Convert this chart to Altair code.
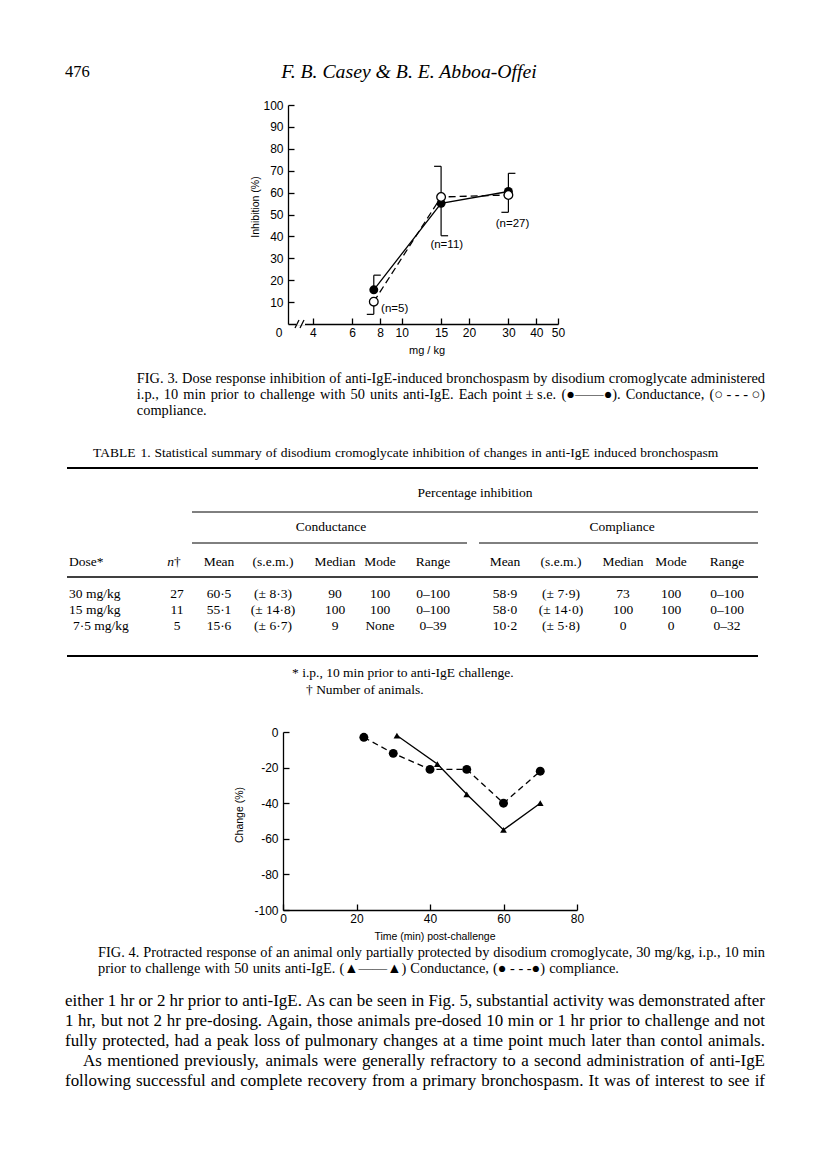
import altair as alt
import pandas as pd

SERIF = "Liberation Serif"
SANS = "Liberation Sans"
W, H = 800, 1160


def P(v):
    return v - 8


# ---------------- Figure 3 data ----------------
doses = [7.5, 15, 30]
cond_mean = [15.6, 55.1, 60.5]
cond_sem = [6.7, 14.8, 8.3]
comp_mean = [10.2, 58.0, 58.9]
comp_sem = [5.8, 14.0, 7.9]
cond_bar_dir = [1, -1, 1]
comp_bar_dir = [-1, 1, -1]
n_text = ["(n=5)", "(n=11)", "(n=27)"]
n_dose = [9.3, 15.9, 31.3]
n_val = [6.8, 36, 45.5]
x3_ticks = [4, 6, 8, 10, 15, 20, 30, 40, 50]
y3_ticks = [10, 20, 30, 40, 50, 60, 70, 80, 90, 100]

# ---------------- Figure 4 data ----------------
t_cond = [31, 42, 50, 60, 70]
v_cond = [-2, -18, -35, -55, -40]
t_comp = [22, 30, 40, 50, 60, 70]
v_comp = [-3, -12, -21, -21, -40, -22]
x4_ticks = [0, 20, 40, 60, 80]
y4_ticks = [0, -20, -40, -60, -80, -100]

# ---------------- Table 1 data ----------------
tab_dose = ["30 mg/kg", "15 mg/kg", "7·5 mg/kg"]
tab_n = ["27", "11", "5"]
tab_cond_mean = ["60·5", "55·1", "15·6"]
tab_cond_sem = ["(± 8·3)", "(± 14·8)", "(± 6·7)"]
tab_cond_median = ["90", "100", "9"]
tab_cond_mode = ["100", "100", "None"]
tab_cond_range = ["0–100", "0–100", "0–39"]
tab_comp_mean = ["58·9", "58·0", "10·2"]
tab_comp_sem = ["(± 7·9)", "(± 14·0)", "(± 5·8)"]
tab_comp_median = ["73", "100", "0"]
tab_comp_mode = ["100", "100", "0"]
tab_comp_range = ["0–100", "0–100", "0–32"]
tab_headers = ["Mean", "(s.e.m.)", "Median", "Mode", "Range"] * 2

# ---------------- Text ----------------
page_no = "476"
running_head = "F. B. Casey & B. E. Abboa-Offei"
fig3_caption = [
    "FIG. 3. Dose response inhibition of anti-IgE-induced bronchospasm by disodium cromoglycate administered",
    "i.p., 10 min prior to challenge with 50 units anti-IgE. Each point\u00a0±\u00a0s.e. (●——●). Conductance, (○\u00a0-\u00a0-\u00a0-\u00a0○)",
    "compliance.",
]
table_title = "TABLE 1. Statistical summary of disodium cromoglycate inhibition of changes in anti-IgE induced bronchospasm"
footnotes = ["* i.p., 10 min prior to anti-IgE challenge.", "† Number of animals."]
fig4_caption = [
    "FIG. 4. Protracted response of an animal only partially protected by disodium cromoglycate, 30 mg/kg, i.p., 10 min",
    "prior to challenge with 50 units anti-IgE. (▲——▲) Conductance, (●\u00a0-\u00a0-\u00a0-●) compliance.",
]
body = [
    "either 1 hr or 2 hr prior to anti-IgE. As can be seen in Fig. 5, substantial activity was demonstrated after",
    "1 hr, but not 2 hr pre-dosing. Again, those animals pre-dosed 10 min or 1 hr prior to challenge and not",
    "fully protected, had a peak loss of pulmonary changes at a time point much later than contol animals.",
    "As mentioned previously, animals were generally refractory to a second administration of anti-IgE",
    "following successful and complete recovery from a primary bronchospasm. It was of interest to see if",
]

# ---------------- Times metrics (per 1000 em) ----------------
TW = {' ': 250, '\u00a0': 250, '!': 333, '"': 408, '%': 833, '&': 778, "'": 333,
      '(': 333, ')': 333, '*': 500, '+': 564, ',': 250, '-': 333, '.': 250, '/': 278,
      ':': 278, ';': 278, '=': 564, '?': 444, '±': 564, '·': 250, '†': 500,
      '—': 1000, '–': 500, '●': 604, '○': 604, '▲': 990}
for c in '0123456789':
    TW[c] = 500
TW.update(dict(zip('ABCDEFGHIJKLMNOPQRSTUVWXYZ',
                   [722, 667, 667, 722, 611, 556, 722, 722, 333, 389, 722, 611, 889,
                    722, 722, 556, 722, 667, 556, 611, 722, 722, 944, 722, 722, 611])))
TW.update(dict(zip('abcdefghijklmnopqrstuvwxyz',
                   [444, 500, 444, 500, 444, 333, 500, 500, 278, 278, 500, 278, 778,
                    500, 500, 500, 500, 333, 389, 278, 500, 500, 722, 500, 500, 444])))


def tw(s, size):
    return sum(TW.get(c, 500) for c in s) * size / 1000.0


def fit_size(line, width, gap_em=0.27):
    words = line.split(' ')
    return width / (sum(tw(w, 1) for w in words) + gap_em * (len(words) - 1))


def natural_width(line, size, gap_em=0.27):
    words = line.split(' ')
    return sum(tw(w, size) for w in words) + gap_em * size * (len(words) - 1)


ONE = pd.DataFrame({'k': [0]})


def text(s, x, y, size, font=SERIF, align='left', style='normal', angle=0):
    return alt.Chart(ONE).mark_text(
        text=s, align=align, baseline='middle', font=font, fontSize=size,
        fontStyle=style, angle=angle, color='black'
    ).encode(x=alt.value(P(x)), y=alt.value(P(y)))


def words_line(s, x0, y, size, x1=None, font=SERIF):
    words = s.split(' ')
    widths = [tw(w, size) for w in words]
    if x1 is not None and len(words) > 1:
        gap = (x1 - x0 - sum(widths)) / (len(words) - 1)
    else:
        gap = tw(' ', size) * 1.15
    xs, cur = [], x0
    for wd in widths:
        xs.append(P(cur))
        cur += wd + gap
    df = pd.DataFrame({'w': words, 'px': xs})
    return alt.Chart(df).mark_text(
        align='left', baseline='middle', font=font, fontSize=size, color='black'
    ).encode(x=alt.X('px:Q', scale=None), y=alt.value(P(y)), text='w:N')


def hrule(x0, x1, y, w=1.0, color='black'):
    return alt.Chart(ONE).mark_rule(color=color, strokeWidth=w).encode(
        x=alt.value(P(x0)), x2=alt.value(P(x1)), y=alt.value(P(y)))


def seg(x0, y0, x1, y1, w=1.2):
    return alt.Chart(ONE).mark_rule(color='black', strokeWidth=w).encode(
        x=alt.value(P(x0)), y=alt.value(P(y0)), x2=alt.value(P(x1)), y2=alt.value(P(y1)))


def ax_main(orient, offset, values, pad, expr):
    return alt.Axis(orient=orient, offset=offset, values=values, ticks=False, grid=False,
                    title=None, domain=True, domainColor='black', domainWidth=1.3,
                    labelFont=SANS, labelFontSize=12, labelColor='black', labelPadding=pad,
                    labelFlush=False, labelOverlap=False, labelExpr=expr)


def ax_ticks(orient, offset, values, size=6):
    return alt.Axis(orient=orient, offset=offset, values=values, ticks=True, tickSize=size,
                    tickColor='black', tickWidth=1.3, labels=False, domain=False,
                    grid=False, title=None)


L = []

# ================= Figure 3 =================
X3 = alt.Scale(type='log', domain=[3.1, 50], range=[P(288), P(558)], nice=False)
Y3 = alt.Scale(domain=[0, 100], range=[P(324), P(105)], nice=False, zero=False)
df3 = pd.DataFrame({'dose': doses, 'cond': cond_mean, 'comp': comp_mean})
b3 = alt.Chart(df3)
NOX3 = alt.X('dose:Q', scale=X3, axis=None)

L.append(b3.mark_line(color='black', strokeWidth=1.3).encode(
    x=alt.X('dose:Q', scale=X3,
            axis=ax_main('bottom', P(324) - H, x3_ticks, 3, "'' + datum.value")),
    y=alt.Y('cond:Q', scale=Y3,
            axis=ax_main('left', -P(288), y3_ticks, 5, "'' + datum.value"))))
L.append(b3.mark_point(opacity=0).encode(
    x=alt.X('dose:Q', scale=X3, axis=ax_ticks('top', -P(324), x3_ticks)),
    y=alt.Y('cond:Q', scale=Y3, axis=ax_ticks('right', P(288) - W, y3_ticks))))
L.append(b3.mark_line(color='black', strokeWidth=1.3, strokeDash=[7, 4]).encode(
    x=NOX3, y=alt.Y('comp:Q', scale=Y3, axis=None)))

err_rows = []
for d, m, s, dr in zip(doses, cond_mean, cond_sem, cond_bar_dir):
    err_rows.append({'dose': d, 'y0': m, 'y1': m + dr * s, 'side': 1})
for d, m, s, dr in zip(doses, comp_mean, comp_sem, comp_bar_dir):
    err_rows.append({'dose': d, 'y0': m, 'y1': m + dr * s, 'side': -1})
err = pd.DataFrame(err_rows)
L.append(alt.Chart(err).mark_rule(color='black', strokeWidth=1.2).encode(
    x=NOX3, y=alt.Y('y0:Q', scale=Y3, axis=None), y2='y1:Q'))
for side in (1, -1):
    L.append(alt.Chart(err[err['side'] == side]).mark_tick(
        orient='horizontal', size=7, thickness=1.2, color='black', opacity=1,
        xOffset=side * 3.5).encode(x=NOX3, y=alt.Y('y1:Q', scale=Y3, axis=None)))

L.append(b3.mark_point(shape='circle', filled=True, color='black', size=80, opacity=1).encode(
    x=NOX3, y=alt.Y('cond:Q', scale=Y3, axis=None)))
L.append(b3.mark_point(shape='circle', filled=True, fill='white', stroke='black',
                       strokeWidth=1.3, size=75, opacity=1).encode(
    x=NOX3, y=alt.Y('comp:Q', scale=Y3, axis=None)))

dfn = pd.DataFrame({'dose': n_dose, 'val': n_val, 'txt': n_text})
L.append(alt.Chart(dfn).mark_text(font=SANS, fontSize=11.5, color='black').encode(
    x=NOX3, y=alt.Y('val:Q', scale=Y3, axis=None), text='txt:N'))

# axis break and annotations
L.append(hrule(296, 305, 324, w=3, color='white'))
L.append(seg(295, 328, 299, 320))
L.append(seg(300, 328, 304, 320))
L.append(text("0", 279, 333, 12, font=SANS, align='center'))
L.append(text("Inhibition (%)", 256, 207, 10.5, font=SANS, align='center', angle=270))
L.append(text("mg / kg", 427, 351, 11, font=SANS, align='center'))

# ================= Figure 4 =================
X4 = alt.Scale(domain=[0, 80], range=[P(283), P(577)], nice=False, zero=False)
Y4 = alt.Scale(domain=[-100, 0], range=[P(910), P(732)], nice=False, zero=False)
dc = pd.DataFrame({'t': t_cond, 'v': v_cond})
dp = pd.DataFrame({'t': t_comp, 'v': v_comp})
NOX4 = alt.X('t:Q', scale=X4, axis=None)
NOY4 = alt.Y('v:Q', scale=Y4, axis=None)
y4_expr = "datum.value < 0 ? '-' + (-datum.value) : '0'"

L.append(alt.Chart(dc).mark_line(color='black', strokeWidth=1.3).encode(
    x=alt.X('t:Q', scale=X4, axis=ax_main('bottom', P(910) - H, x4_ticks, 3, "'' + datum.value")),
    y=alt.Y('v:Q', scale=Y4, axis=ax_main('left', -P(283), y4_ticks, 5, y4_expr))))
L.append(alt.Chart(dc).mark_point(opacity=0).encode(
    x=alt.X('t:Q', scale=X4, axis=ax_ticks('top', -P(910), x4_ticks)),
    y=alt.Y('v:Q', scale=Y4, axis=ax_ticks('right', P(283) - W, y4_ticks))))
L.append(alt.Chart(dp).mark_line(color='black', strokeWidth=1.3, strokeDash=[6, 4]).encode(
    x=NOX4, y=NOY4))
L.append(alt.Chart(dc).mark_point(shape='triangle-up', filled=True, color='black',
                                  size=45, opacity=1).encode(x=NOX4, y=NOY4))
L.append(alt.Chart(dp).mark_point(shape='circle', filled=True, color='black',
                                  size=80, opacity=1).encode(x=NOX4, y=NOY4))
L.append(text("Change (%)", 240, 815, 10.5, font=SANS, align='center', angle=270))
L.append(text("Time (min) post-challenge", 435, 937, 10.5, font=SANS, align='center'))

# ================= Page text =================
L.append(text(page_no, 65, 72, 16.5))
head_size = 263 / tw(running_head, 1)
L.append(text(running_head, 409, 72, head_size, align='center', style='italic'))

cap_size = fit_size(fig4_caption[0], 667)
cap3_x0 = 765 - natural_width(fig3_caption[0], cap_size)
cap3_y = [379, 395, 411]
L.append(words_line(fig3_caption[0], cap3_x0, cap3_y[0], cap_size, x1=765))
L.append(words_line(fig3_caption[1], cap3_x0, cap3_y[1], cap_size, x1=765))
L.append(words_line(fig3_caption[2], cap3_x0, cap3_y[2], cap_size))
L.append(words_line(table_title, 93, 453, 13.5))

# ---------------- Table ----------------
TL, TR = 67, 758
tsize = 13.5
L.append(hrule(TL, TR, 468, w=1.8))
L.append(text("Percentage inhibition", 475, 493, tsize, align='center'))
L.append(hrule(192, TR, 512, w=1.0))
L.append(text("Conductance", 331, 527, tsize, align='center'))
L.append(text("Compliance", 622, 527, tsize, align='center'))
L.append(hrule(192, 467, 543, w=1.0))
L.append(hrule(479, TR, 543, w=1.0))
L.append(text("Dose*", 69, 562, tsize))
L.append(text("n", 174, 562, tsize, align='right', style='italic'))
L.append(text("†", 174, 562, tsize))
col_x = [219, 273, 335, 380, 433, 505, 561, 623, 671, 727]
for hx, h in zip(col_x, tab_headers):
    L.append(text(h, hx, 562, tsize, align='center'))
L.append(hrule(TL, TR, 577, w=1.3))
row_y = [594, 610, 626]
cols = [tab_cond_mean, tab_cond_sem, tab_cond_median, tab_cond_mode, tab_cond_range,
        tab_comp_mean, tab_comp_sem, tab_comp_median, tab_comp_mode, tab_comp_range]
for i, ry in enumerate(row_y):
    L.append(text(tab_dose[i], 69 if i < 2 else 73, ry, tsize))
    L.append(text(tab_n[i], 177, ry, tsize, align='center'))
    for cx, col in zip(col_x, cols):
        L.append(text(col[i], cx, ry, tsize, align='center'))
L.append(hrule(TL, TR, 656, w=1.8))
L.append(text(footnotes[0], 292, 673, tsize))
L.append(text(footnotes[1], 306, 690, tsize))

# ---------------- Fig 4 caption and body ----------------
L.append(words_line(fig4_caption[0], 98, 953, cap_size, x1=765))
L.append(words_line(fig4_caption[1], 98, 969, cap_size))

body_size = (fit_size(body[0], 700) + fit_size(body[1], 700) + fit_size(body[4], 700)) / 3
body_y = [1001, 1021, 1041, 1061, 1081]
body_x0 = [65, 65, 65, 83, 65]
for s, y, x0 in zip(body, body_y, body_x0):
    L.append(words_line(s, x0, y, body_size, x1=765))

chart = alt.layer(*L).properties(
    width=W, height=H, padding=0,
    autosize=alt.AutoSizeParams(type='none'),
).resolve_scale(x='independent', y='independent').configure_view(strokeOpacity=0)

chart.save("out.html", embed_options={"renderer": "svg", "actions": False})
